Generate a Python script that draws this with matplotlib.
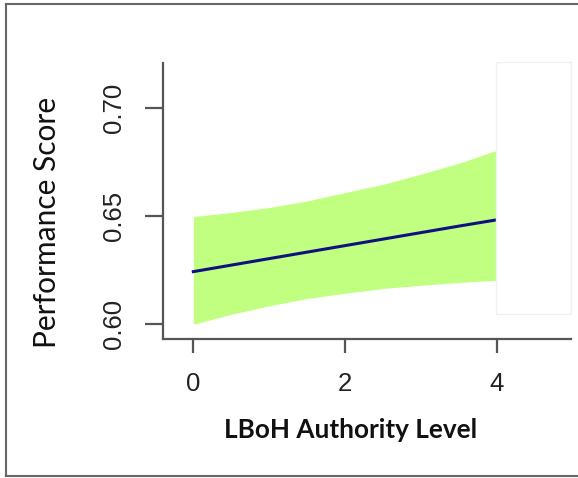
import matplotlib
matplotlib.use("Agg")
import matplotlib.pyplot as plt
from matplotlib.lines import Line2D
from matplotlib.patches import Rectangle

# Data
authority = [0, 0.5, 1, 1.5, 2, 2.5, 3, 3.5, 4]
fit = [0.6243, 0.6273, 0.6303, 0.6333, 0.6363, 0.6393, 0.6423, 0.6453, 0.6482]
upper = [0.6497, 0.6516, 0.6539, 0.6569, 0.6608, 0.6646, 0.6693, 0.6743, 0.6803]
lower = [0.6000, 0.6046, 0.6085, 0.6119, 0.6143, 0.6165, 0.6180, 0.6193, 0.6203]
xticks = [0, 2, 4]
yticks = [0.60, 0.65, 0.70]
ytick_labels = ["0.60", "0.65", "0.70"]

W, H = 578, 478
fig = plt.figure(figsize=(W / 100, H / 100), dpi=100)
fig.patch.set_facecolor("white")

def fx(px):
    return px / W

def fy(py):
    return 1 - py / H

ax = fig.add_axes([fx(163), fy(339), fx(571) - fx(163), fy(63) - fy(339)])
ax.fill_between(authority, lower, upper, color="#c0ff80", linewidth=0, zorder=1)
ax.plot(authority, fit, color="#101080", linewidth=2.2, zorder=2)

ax.set_xlim(-0.40, 4.98)
ax.set_ylim(0.5932, 0.7206)

for s in ["top", "right"]:
    ax.spines[s].set_visible(False)
for s in ["left", "bottom"]:
    ax.spines[s].set_color("#555555")
    ax.spines[s].set_linewidth(1.6)

ax.set_xticks(xticks)
ax.set_xticklabels([str(v) for v in xticks], fontfamily="Liberation Sans", fontsize=18.5, color="#222222")
ax.set_yticks(yticks)
ax.set_yticklabels(ytick_labels, fontfamily="Liberation Sans", fontsize=18.5, color="#222222",
                   rotation=90, va="center")
ax.tick_params(axis="x", direction="out", length=10, width=1.6, color="#555555", pad=14)
ax.tick_params(axis="y", direction="out", length=13, width=1.6, color="#555555", pad=14)

# axis titles
fig.text(fx(47), fy(222), "Performance Score", rotation=90, ha="center", va="center",
         fontfamily="Lato", fontsize=21.5, color="#111111")
fig.text(fx(351), fy(430), "LBoH Authority Level", ha="center", va="center",
         fontfamily="Lato", fontweight="bold", fontsize=18.8, color="#111111")

# pasted-image artefact: faint white box at the right
fig.add_artist(Rectangle((fx(496), fy(314)), fx(571) - fx(496), fy(62) - fy(314),
                         transform=fig.transFigure, facecolor="white", edgecolor="#f0f0f0",
                         linewidth=1.0, zorder=0.5))

# outer frame (left, top, bottom)
frame_kw = dict(transform=fig.transFigure, color="#666666", linewidth=1.5)
fig.add_artist(Line2D([fx(6), fx(6)], [fy(4), fy(476)], **frame_kw))
fig.add_artist(Line2D([fx(6), 1.0], [fy(4), fy(4)], **frame_kw))
fig.add_artist(Line2D([fx(6), 1.0], [fy(476), fy(476)], **frame_kw))

fig.savefig("out.png", dpi=100)
